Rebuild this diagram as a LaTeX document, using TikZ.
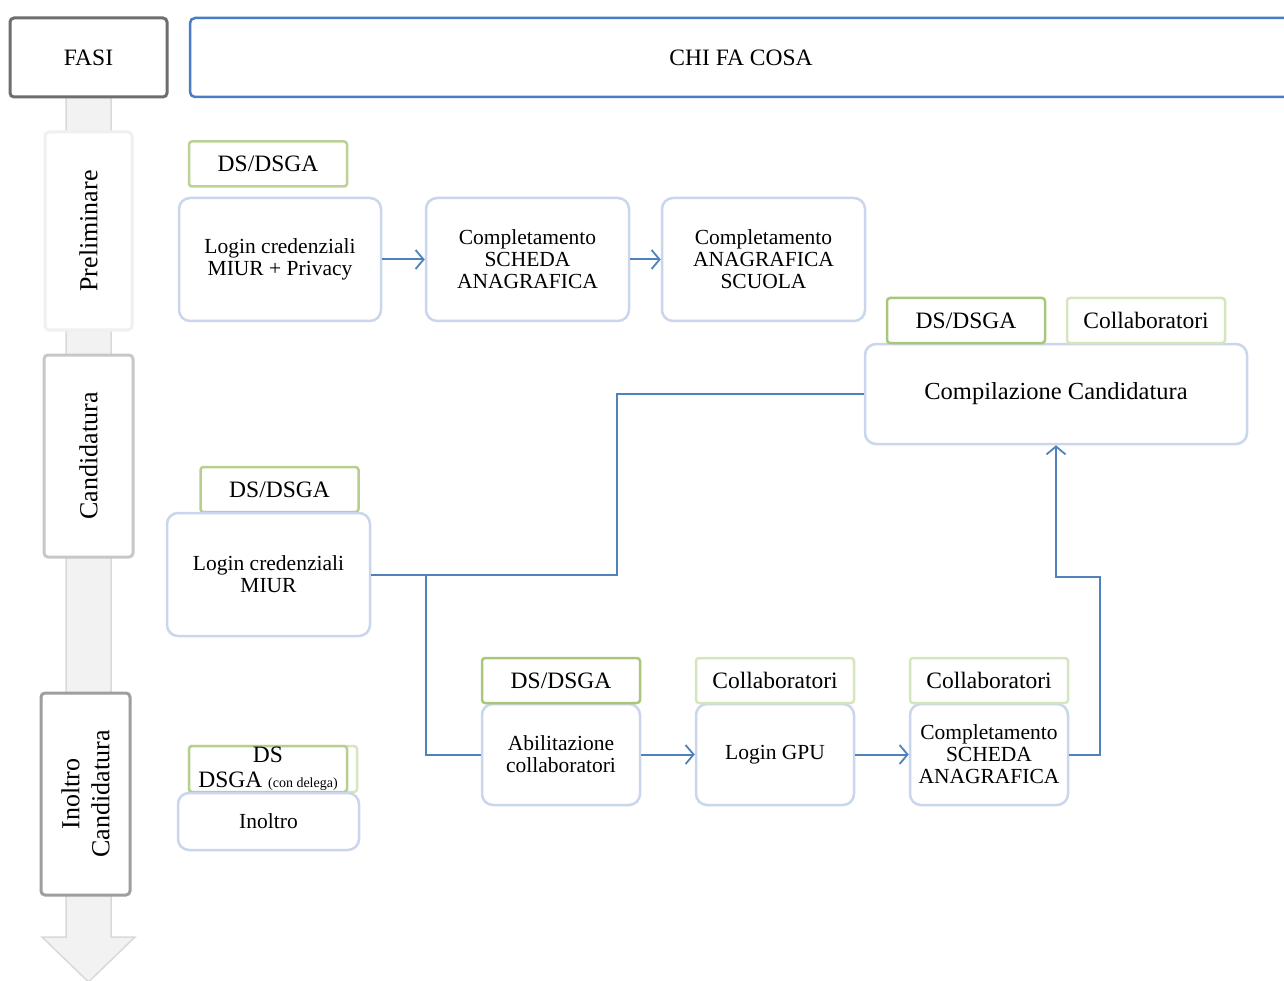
\documentclass[tikz,border=0pt]{standalone}
\usepackage{fontspec}
\setmainfont{Liberation Serif}
\usetikzlibrary{arrows.meta}
\definecolor{fasigray}{HTML}{6E6E6E}
\definecolor{chiblue}{HTML}{4A7CC4}
\definecolor{lgreen}{HTML}{A9C77A}
\definecolor{llgreen}{HTML}{D5E5BD}
\definecolor{tblue}{HTML}{C9D6EC}
\definecolor{conn}{HTML}{4F81BD}
\definecolor{arrfill}{HTML}{F2F2F2}
\definecolor{arrdraw}{HTML}{D9D9D9}
\begin{document}
\begin{tikzpicture}[x=1pt,y=-1pt,
  lbl/.style={draw=lgreen,line width=2.5pt,rounded corners=3pt,fill=white,inner sep=0pt,
    minimum width=158pt,minimum height=45pt,font=\fontsize{23.5}{25}\selectfont},
  lbll/.style={lbl,draw=llgreen},
  task/.style={draw=tblue,line width=2.5pt,rounded corners=11pt,fill=white,inner sep=0pt,
    align=center,font=\fontsize{21.5}{22}\selectfont},
  phase/.style={fill=white,rounded corners=4pt,line width=3pt,inner sep=0pt,rotate=90,
    align=center,font=\fontsize{26}{30}\selectfont},
  conn/.style={draw=conn,line width=2pt},
  arr/.style={conn,-{Straight Barb[length=8pt,width=19pt,line width=1.8pt]}}]
\useasboundingbox (0,0) rectangle (1284,981);
% big timeline arrow
\draw[fill=arrfill,draw=arrdraw,line width=1.5pt] (66,97) -- (111,97) -- (111,937) -- (135,937)
  -- (88.5,982) -- (42,937) -- (66,937) -- cycle;
% header
\node[draw=fasigray,line width=3pt,rounded corners=4pt,fill=white,minimum width=157pt,minimum height=79pt,
  font=\fontsize{23.5}{25}\selectfont] (fasi) at (88.5,57.5) {FASI};
\node[draw=chiblue,line width=2.5pt,rounded corners=5pt,fill=white,minimum width=1100pt,minimum height=79pt,
  inner sep=0pt] (chibox) at (740,57.5) {};
\node[font=\fontsize{23.5}{25}\selectfont] (chi) at (741,57.5) {CHI FA COSA};
% phases
\node[phase,draw=black!6,minimum width=198pt,minimum height=87pt] (pre) at (88.5,231) {Preliminare};
\node[phase,draw=black!22,minimum width=202pt,minimum height=89pt] (cand) at (88.5,456) {Candidatura};
\node[phase,draw=black!38,minimum width=202pt,minimum height=89pt] (inol) at (85.5,794) {Inoltro\\Candidatura};
% preliminare row
\node[lbl,draw=lgreen!80] (l1) at (268,164) {DS/DSGA};
\node[task,minimum width=202pt,minimum height=123pt] (t1) at (280,259.5) {Login credenziali\\MIUR + Privacy};
\node[task,minimum width=203pt,minimum height=123pt] (t2) at (527.5,259.5) {Completamento\\SCHEDA\\ANAGRAFICA};
\node[task,minimum width=203pt,minimum height=123pt] (t3) at (763.5,259.5) {Completamento\\ANAGRAFICA\\SCUOLA};
% compilazione
\node[task,minimum width=382pt,minimum height=100pt,font=\fontsize{24.5}{26}\selectfont] (t4) at (1056,394) {Compilazione Candidatura};
\node[lbl] (l2) at (966,320.5) {DS/DSGA};
\node[lbll] (l3) at (1146,320.5) {Collaboratori};
% candidatura login
\node[lbl,draw=lgreen!85] (l4) at (279.5,489.5) {DS/DSGA};
\node[task,minimum width=203pt,minimum height=123pt] (t5) at (268.5,574.5) {Login credenziali\\MIUR};
% lower row
\node[task,minimum width=158pt,minimum height=101pt] (t6) at (561,754.5) {Abilitazione\\collaboratori};
\node[lbl] (l5) at (561,680.5) {DS/DSGA};
\node[task,minimum width=158pt,minimum height=101pt] (t7) at (775,754.5) {Login GPU};
\node[lbll] (l6) at (775,680.5) {Collaboratori};
\node[task,minimum width=158pt,minimum height=101pt] (t8) at (989,754.5) {Completamento\\SCHEDA\\ANAGRAFICA};
\node[lbll] (l7) at (989,680.5) {Collaboratori};
% inoltro
\node[lbll,minimum width=168pt,minimum height=46pt] (l8b) at (273,769) {};
\node[lbl,draw=lgreen!85,minimum height=46pt,align=center] (l8) at (268,769)
  {DS\\DSGA {\fontsize{14}{14}\selectfont(con delega)}};
\node[task,minimum width=181pt,minimum height=57pt] (t9) at (268.5,821.5) {Inoltro};
% connectors
\draw[arr] (t1.east) -- (t2.west);
\draw[arr] (t2.east) -- (t3.west);
\coordinate (c1) at (617,574.5);
\coordinate (c2) at (426,574.5);
\coordinate (c3) at (1100,577);
\draw[conn] (t5.east) -- (c1) |- (t4.west);
\draw[conn] (c2) |- (t6.west);
\draw[arr] (t6.east) -- (t7.west);
\draw[arr] (t7.east) -- (t8.west);
\draw[arr] (t8.east) -| (c3) -| (t4.south);
\end{tikzpicture}
\end{document}
